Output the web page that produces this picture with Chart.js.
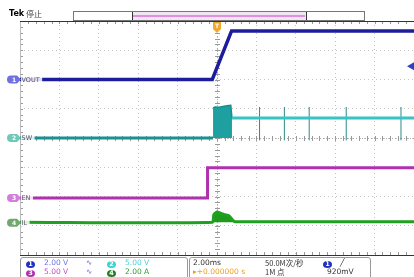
<!DOCTYPE html>
<html>
<head>
<meta charset="utf-8">
<script src="https://cdn.jsdelivr.net/npm/chart.js@4.4.1/dist/chart.umd.min.js"></script>
<style>
  html, body { margin: 0; padding: 0; background: #fff; }
  #wrap { position: relative; width: 414px; height: 277px; overflow: hidden; font-family: "DejaVu Sans", sans-serif; }
  canvas { position: absolute; left: 0; top: 0; }
  .t { position: absolute; white-space: nowrap; font-size: 7.5px; line-height: 9px; }
  .dot { display: inline-block; width: 9px; height: 7px; border-radius: 50%; color: #fff; text-align: center; font-size: 6.5px; line-height: 7px; font-weight: bold; }
  .box { position: absolute; border: 1px solid #999; border-radius: 3px; }
</style>
</head>
<body>
<div id="wrap">
  <canvas id="scope" width="414" height="277"></canvas>

  <div class="t" style="left:9px;top:9px;font-weight:bold;font-size:8px;">Tek</div>
  <div class="t" style="left:26px;top:9px;font-size:8px;font-family:'Noto Sans CJK SC';color:#444;">停止</div>
  <div style="position:absolute;left:73px;top:11px;width:290px;height:8px;border:1px solid #777;background:#fff;"></div>
  <div style="position:absolute;left:132px;top:12px;width:173px;height:8px;background:#f2e6f2;border-left:1px solid #333;border-right:1px solid #333;"></div>
  <div style="position:absolute;left:133px;top:15px;width:172px;height:2px;background:#e090e0;"></div>

  <div class="box" style="left:20px;top:257px;width:166px;height:24px;"></div>
  <div class="box" style="left:189px;top:257px;width:180px;height:24px;"></div>

  <div class="t" style="left:26px;top:259px;"><span class="dot" style="background:#2030c0">1</span></div>
  <div class="t" style="left:44px;top:258px;color:#7070e0;">2.00 V</div>
  <div class="t" style="left:86px;top:258px;color:#7070e0;">∿</div>
  <div class="t" style="left:107px;top:259px;"><span class="dot" style="background:#40d0d0">2</span></div>
  <div class="t" style="left:125px;top:258px;color:#50d0d0;">5.00 V</div>

  <div class="t" style="left:26px;top:268px;"><span class="dot" style="background:#b030b0">3</span></div>
  <div class="t" style="left:44px;top:267px;color:#c050c0;">5.00 V</div>
  <div class="t" style="left:86px;top:267px;color:#7070e0;">∿</div>
  <div class="t" style="left:107px;top:268px;"><span class="dot" style="background:#208020">4</span></div>
  <div class="t" style="left:125px;top:267px;color:#30a030;">2.00 A</div>

  <div class="t" style="left:193px;top:258px;color:#333;">2.00ms</div>
  <div class="t" style="left:265px;top:258px;color:#333;font-family:'Noto Sans CJK SC';">50.0M次/秒</div>
  <div class="t" style="left:323px;top:259px;"><span class="dot" style="background:#2030c0">1</span></div>
  <div class="t" style="left:340px;top:258px;color:#333;">╱</div>
  <div class="t" style="left:193px;top:267px;color:#f0a020;">▸+0.000000 s</div>
  <div class="t" style="left:265px;top:267px;color:#333;font-family:'Noto Sans CJK SC';">1M 点</div>
  <div class="t" style="left:327px;top:267px;color:#333;">920mV</div>
</div>

<script>
// time axis in divisions (0..10), vertical in divisions (0 bottom .. 8 top)
const channelNames = ["VOUT", "SW", "EN", "IL"];
const channelNums = ["1", "2", "3", "4"];
const channelLevels = [6.0, 4.0, 1.95, 1.1];
const channelColors = ["#1c1c9c", "#1a9a9a", "#b030b0", "#20a020"];
const tagColors = ["#7070e0", "#70c8b8", "#d080d8", "#70a870"];

const voutX = [0, 4.88, 5.37, 10];
const voutY = [6.0, 6.0, 7.66, 7.66];

const swLowX = [0, 4.9];
const swLowY = [4.0, 4.0];
const swBurstX = [4.9, 4.95, 5.05, 5.15, 5.25, 5.35, 5.38];
const swBurstY = [5.03, 5.06, 5.05, 5.08, 5.1, 5.12, 4.68];
const swHighX = [5.38, 10];
const swHighY = [4.68, 4.68];
const swSpikeX = [6.08, 6.71, 7.34, 8.28, 9.67];
const swSpikeTop = 5.06;
const swSpikeBottom = 3.92;

const enX = [0, 4.76, 4.76, 10];
const enY = [1.95, 1.95, 2.98, 2.98];

const ilX = [0, 4.88, 4.92, 5.0, 5.1, 5.2, 5.3, 5.38, 5.45, 10];
const ilY = [1.12, 1.12, 1.38, 1.47, 1.42, 1.38, 1.34, 1.22, 1.14, 1.14];

const trigLevel = 6.45;
const trigTime = 5;

function pts(xs, ys) {
  return xs.map((x, i) => ({ x: x, y: ys[i] }));
}

const spikeSets = swSpikeX.map(x => ({
  data: [{ x: x, y: swSpikeBottom }, { x: x, y: swSpikeTop }],
  borderColor: "#2a8a8a",
  borderWidth: 1,
  pointRadius: 0
}));

const overlay = {
  id: "overlay",
  beforeDatasetsDraw(chart) {
    const { ctx, chartArea: a, scales } = chart;
    const cx = scales.x.getPixelForValue(trigTime);
    const cy = scales.y.getPixelForValue(4);
    ctx.save();
    ctx.strokeStyle = "#aaa";
    ctx.lineWidth = 1;
    // center axes
    ctx.setLineDash([1, 2]);
    ctx.beginPath();
    ctx.moveTo(cx + 0.5, a.top); ctx.lineTo(cx + 0.5, a.bottom);
    ctx.moveTo(a.left, cy + 0.5); ctx.lineTo(a.right, cy + 0.5);
    ctx.stroke();
    ctx.setLineDash([]);
    ctx.strokeStyle = "#999";
    // minor ticks on center axes and frame
    ctx.beginPath();
    for (let i = 0; i <= 50; i++) {
      const px = Math.round(scales.x.getPixelForValue(i / 5)) + 0.5;
      ctx.moveTo(px, cy - 2); ctx.lineTo(px, cy + 3);
      ctx.moveTo(px, a.top); ctx.lineTo(px, a.top + 3);
      ctx.moveTo(px, a.bottom); ctx.lineTo(px, a.bottom - 3);
    }
    for (let i = 0; i <= 40; i++) {
      const py = Math.round(scales.y.getPixelForValue(i / 5)) + 0.5;
      ctx.moveTo(cx - 2, py); ctx.lineTo(cx + 3, py);
      ctx.moveTo(a.left, py); ctx.lineTo(a.left + 3, py);
    }
    ctx.stroke();
    ctx.strokeStyle = "#bbb";
    ctx.beginPath();
    ctx.moveTo(a.left + 0.5, a.top); ctx.lineTo(a.left + 0.5, a.bottom);
    ctx.stroke();
    ctx.strokeStyle = "#333";
    ctx.beginPath();
    ctx.moveTo(a.left, a.top + 0.5); ctx.lineTo(a.right, a.top + 0.5);
    ctx.moveTo(a.left, a.bottom + 0.5); ctx.lineTo(a.right, a.bottom + 0.5);
    ctx.stroke();
    ctx.restore();
  },
  afterDatasetsDraw(chart) {
    const { ctx, chartArea: a, scales } = chart;
    ctx.save();
    channelLevels.forEach((lv, i) => {
      const py = scales.y.getPixelForValue(lv);
      ctx.fillStyle = tagColors[i];
      ctx.beginPath();
      ctx.moveTo(11, py - 4);
      ctx.lineTo(17, py - 4);
      ctx.lineTo(21, py);
      ctx.lineTo(17, py + 4);
      ctx.lineTo(11, py + 4);
      ctx.arc(11, py, 4, Math.PI / 2, Math.PI * 1.5);
      ctx.fill();
      ctx.fillStyle = "#fff";
      ctx.font = "bold 6px DejaVu Sans";
      ctx.textAlign = "center";
      ctx.textBaseline = "middle";
      ctx.fillText(channelNums[i], 14, py + 0.5);
      ctx.font = "6.5px DejaVu Sans";
      ctx.fillStyle = "rgba(255,255,255,0.85)";
      ctx.fillRect(21, py - 4, ctx.measureText(channelNames[i]).width + 3, 8);
      ctx.fillStyle = "#556";
      ctx.textAlign = "left";
      ctx.fillText(channelNames[i], 21.5, py + 0.5);
    });
    // trigger position tag
    const tx = scales.x.getPixelForValue(trigTime);
    ctx.fillStyle = "#f0a830";
    ctx.beginPath();
    ctx.moveTo(tx - 3, 11); ctx.lineTo(tx + 3, 11); ctx.lineTo(tx, 16);
    ctx.fill();
    ctx.beginPath();
    ctx.moveTo(tx - 4, 22); ctx.lineTo(tx + 4, 22); ctx.lineTo(tx + 4, 29);
    ctx.lineTo(tx, 33); ctx.lineTo(tx - 4, 29);
    ctx.fill();
    ctx.fillStyle = "#fff";
    ctx.font = "bold 6px DejaVu Sans";
    ctx.textAlign = "center";
    ctx.textBaseline = "middle";
    ctx.fillText("T", tx, 26.5);
    // trigger level arrow
    const ly = scales.y.getPixelForValue(trigLevel);
    ctx.fillStyle = "#3040c0";
    ctx.beginPath();
    ctx.moveTo(a.right - 7, ly); ctx.lineTo(a.right, ly - 4); ctx.lineTo(a.right, ly + 4);
    ctx.fill();
    ctx.restore();
  }
};

new Chart(document.getElementById("scope"), {
  type: "line",
  data: {
    datasets: [
      { data: pts(swLowX, swLowY), borderColor: "#1a9090", borderWidth: 3, pointRadius: 0 },
      { data: pts(swHighX, swHighY), borderColor: "#38c4c4", borderWidth: 3, pointRadius: 0 },
      ...spikeSets,
      {
        data: pts(swBurstX, swBurstY),
        borderColor: "#179090",
        backgroundColor: "#1fa0a0",
        fill: { value: 4.0 },
        borderWidth: 1.5,
        pointRadius: 0
      },
      { data: pts(voutX, voutY), borderColor: channelColors[0], borderWidth: 3.5, pointRadius: 0 },
      { data: pts(enX, enY), borderColor: channelColors[2], borderWidth: 3, pointRadius: 0 },
      {
        data: pts(ilX, ilY),
        borderColor: channelColors[3],
        backgroundColor: "#1f9a1f",
        fill: { value: 1.12 },
        borderWidth: 3,
        pointRadius: 0,
        tension: 0.2
      }
    ]
  },
  options: {
    responsive: false,
    animation: false,
    layout: { padding: { left: 20, top: 21, right: 0, bottom: 22 } },
    plugins: { legend: { display: false }, tooltip: { enabled: false } },
    scales: {
      x: {
        type: "linear",
        min: 0,
        max: 10,
        ticks: { display: false, stepSize: 1 },
        border: { display: false, dash: [1, 3] },
        grid: { color: "#c4c4c4", lineWidth: 1, drawTicks: false, tickLength: 0 }
      },
      y: {
        type: "linear",
        min: 0,
        max: 8,
        ticks: { display: false, stepSize: 1 },
        border: { display: false, dash: [1, 3] },
        grid: { color: "#c4c4c4", lineWidth: 1, drawTicks: false, tickLength: 0 }
      }
    },
    elements: { line: { borderCapStyle: "butt" } }
  },
  plugins: [overlay]
});
</script>
</body>
</html>
